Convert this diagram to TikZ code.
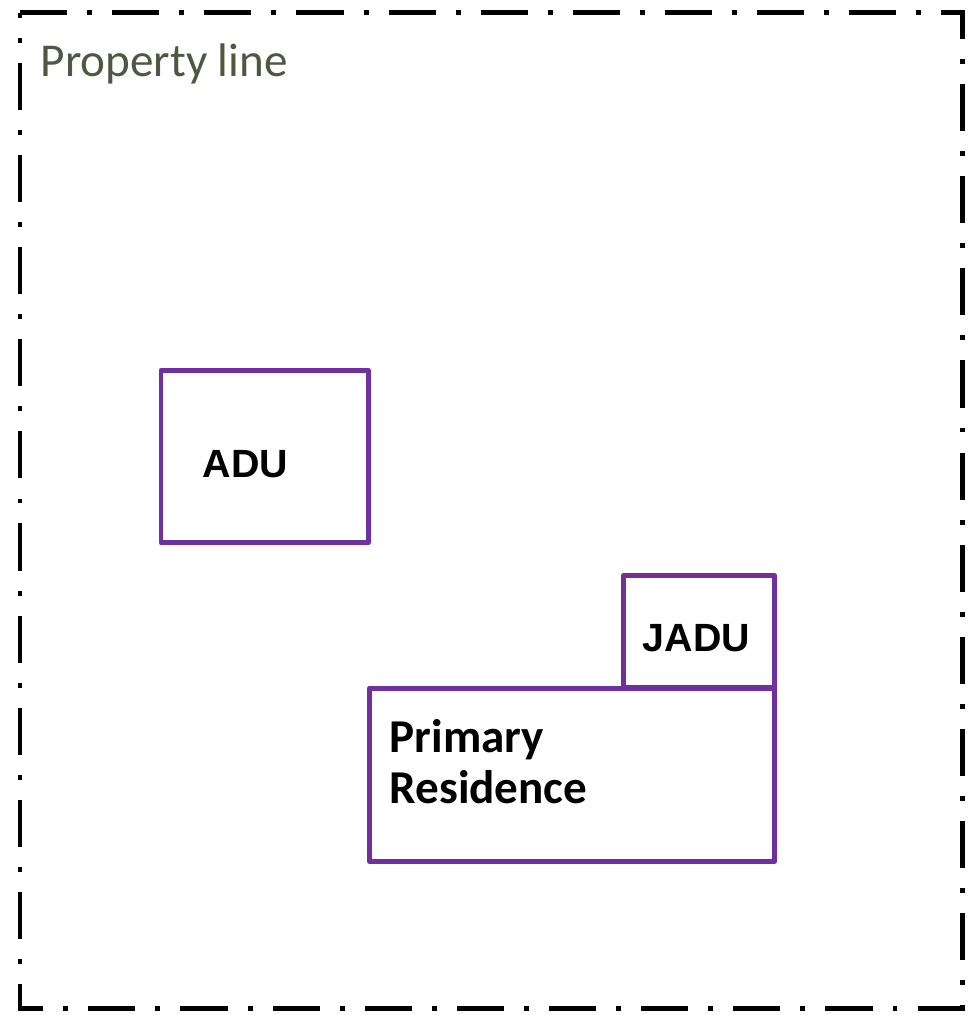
\documentclass[tikz,border=0pt]{standalone}
\usepackage{fontspec}
\setmainfont{Carlito}
\newfontfamily\arialfont{Liberation Sans}
\usetikzlibrary{positioning}
\definecolor{unitpurple}{RGB}{112,48,160}
\definecolor{linegrey}{RGB}{78,88,64}

\begin{document}
\begin{tikzpicture}[x=0.01cm,y=-0.01cm,
  propline/.style={line width=1.42pt,dash pattern=on 13.4pt off 5.7pt on 1.4pt off 5.7pt},
  unit/.style={draw=unitpurple,line width=1.42pt,line join=round},
  lbl/.style={inner sep=0pt,anchor=base west,font=\fontsize{13.4}{13.4}\selectfont\bfseries},
  sanslbl/.style={inner sep=0pt,anchor=base west,font=\fontsize{11.2}{11.2}\selectfont\arialfont\bfseries}]
\useasboundingbox (0,0) rectangle (974,1015);
% property line
\coordinate (tl) at (20,12.5); \coordinate (tr) at (962,12.5);
\coordinate (br) at (962,1008); \coordinate (bl) at (20,1008);
\draw[propline] (tl) -- (tr) -- (br) -- (bl) -- cycle;
\node[lbl,font=\fontsize{13.4}{13.4}\selectfont,text=linegrey] (prop) at (40,77) {Property line};
% buildings
\draw[unit] (161,370.5) rectangle (368.5,542.5);
\draw[unit] (623.5,575.5) rectangle (774.5,687);
\draw[unit] (369.5,688) rectangle (774.5,861.5);
\node[sanslbl] (adu) at (202,477) {ADU};
\node[sanslbl] (jadu) at (642,651) {JADU};
\node[lbl] (primary) at (389,752) {Primary};
\node[lbl] (residence) at (389,803) {Residence};
\end{tikzpicture}
\end{document}
